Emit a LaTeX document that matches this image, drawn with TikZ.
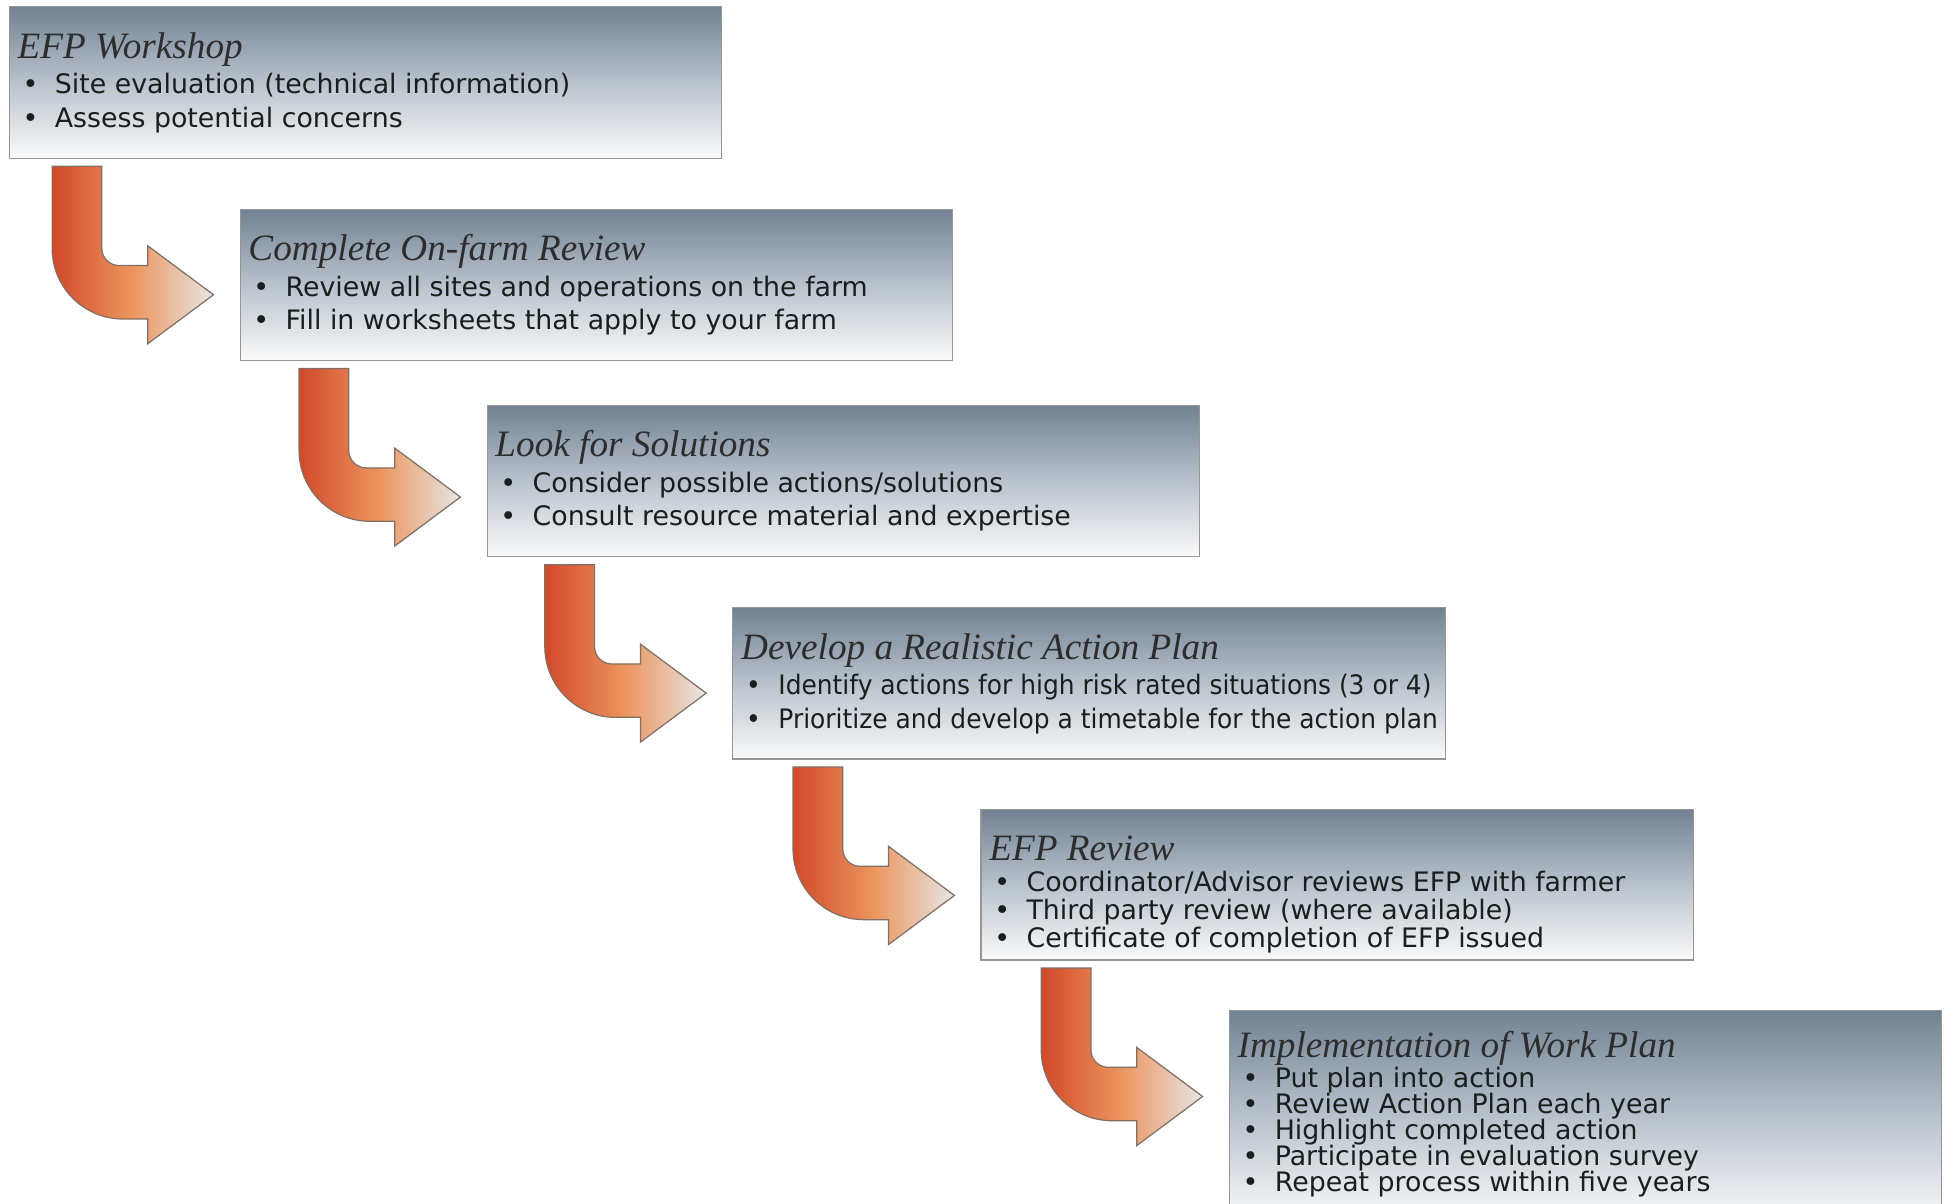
\documentclass[tikz,border=0pt]{standalone}
\usepackage{fontspec}
\setmainfont{DejaVu Sans}
\newfontfamily\titlefont{Liberation Serif}
\newfontfamily\narrowfont{DejaVu Sans}[FakeStretch=0.93]
\usepackage{tikz}
\usetikzlibrary{positioning}
\definecolor{boxtop}{RGB}{114,130,146}
\definecolor{boxmid}{RGB}{185,194,204}
\definecolor{boxbot}{RGB}{250,250,250}
\definecolor{boxline}{RGB}{150,150,150}
\definecolor{arrred}{RGB}{210,72,42}
\definecolor{arrorange}{RGB}{236,150,95}
\definecolor{arrwhite}{RGB}{230,230,230}
\definecolor{arrline}{RGB}{130,112,100}
\definecolor{textgray}{RGB}{25,30,30}
\definecolor{titlegray}{RGB}{45,45,45}
\newcommand{\tightlines}{\setlength{\lineskiplimit}{-30pt}}
\tikzstyle{stepbox} = [rectangle, draw=boxline, line width=1pt, top color=boxtop,
  bottom color=boxbot, middle color=boxmid, minimum width=574pt,
  minimum height=122pt, anchor=north west, inner sep=0pt]
\tikzstyle{steptitle} = [font=\titlefont\itshape\fontsize{30}{30}\selectfont,
  text=titlegray, inner sep=0pt]
\tikzstyle{steplist} = [font=\fontsize{21.6}{27}\selectfont\tightlines, text=textgray,
  align=left, inner sep=0pt]
\tikzstyle{bendarrow} = [draw=arrline, line width=1pt, left color=arrred,
  right color=arrwhite, middle color=arrorange]
\newcommand{\bul}{\makebox[26pt][l]{\textbullet}}

\begin{document}
\begin{tikzpicture}[x=1pt, y=-1pt]
    \clip (0,0) rectangle (1568,970);
    \fill[white] (0,0) rectangle (1568,970);

    \node [stepbox] (efp) at (7,5) {};
    \node [stepbox] (review) at (193,168) {};
    \node [stepbox] (solutions) at (392,326) {};
    \node [stepbox] (plan) at (590,489) {};
    \node [stepbox, minimum height=121pt] (efprev) at (790,652) {};
    \node [stepbox, minimum height=170pt] (implement) at (990,814) {};

    \node [steptitle, below right=42pt and 7pt of efp.north west, anchor=base west] (efpT) {EFP Workshop};
    \node [steplist, below right=54pt and 11pt of efp.north west] (efpL)
      {\bul Site evaluation (technical information)\\ \bul Assess potential concerns};

    \node [steptitle, below right=42pt and 7pt of review.north west, anchor=base west] (reviewT) {Complete On-farm Review};
    \node [steplist, below right=54pt and 11pt of review.north west] (reviewL)
      {\bul Review all sites and operations on the farm\\ \bul Fill in worksheets that apply to your farm};

    \node [steptitle, below right=42pt and 7pt of solutions.north west, anchor=base west] (solutionsT) {Look for Solutions};
    \node [steplist, below right=54pt and 11pt of solutions.north west] (solutionsL)
      {\bul Consider possible actions/solutions\\ \bul Consult resource material and expertise};

    \node [steptitle, below right=42pt and 7pt of plan.north west, anchor=base west] (planT) {Develop a Realistic Action Plan};
    \node [steplist, font=\narrowfont\fontsize{21.6}{27}\selectfont, below right=54pt and 11pt of plan.north west] (planL)
      {\bul Identify actions for high risk rated situations (3 or 4)\\ \bul Prioritize and develop a timetable for the action plan};

    \node [steptitle, below right=41pt and 7pt of efprev.north west, anchor=base west] (efprevT) {EFP Review};
    \node [steplist, font=\fontsize{21.6}{22.5}\selectfont\tightlines, below right=50pt and 11pt of efprev.north west] (efprevL)
      {\bul Coordinator/Advisor reviews EFP with farmer\\ \bul Third party review (where available)\\
       \bul Certificate of completion of EFP issued};

    \node [steptitle, below right=38pt and 7pt of implement.north west, anchor=base west] (implementT) {Implementation of Work Plan};
    \node [steplist, font=\fontsize{21.6}{20.8}\selectfont\tightlines, below right=46pt and 11pt of implement.north west] (implementL)
      {\bul Put plan into action\\ \bul Review Action Plan each year\\ \bul Highlight completed action\\
       \bul Participate in evaluation survey\\ \bul Repeat process within five years};

    % bent arrows from one step to the next
    \foreach \a/\b in {efp/review, review/solutions, solutions/plan, plan/efprev, efprev/implement}
      \path [bendarrow, shift={(\a.south -| \b.west)}] (-151,6) -- (-111,6) -- (-111,72)
        .. controls (-111,79.7) and (-104.7,86) .. (-97,86) -- (-74,86) -- (-74,70)
        -- (-21,109.5) -- (-74,149) -- (-74,129) -- (-94,129)
        .. controls (-125.5,129) and (-151,103.5) .. (-151,72) -- cycle;

\end{tikzpicture}
\end{document}
